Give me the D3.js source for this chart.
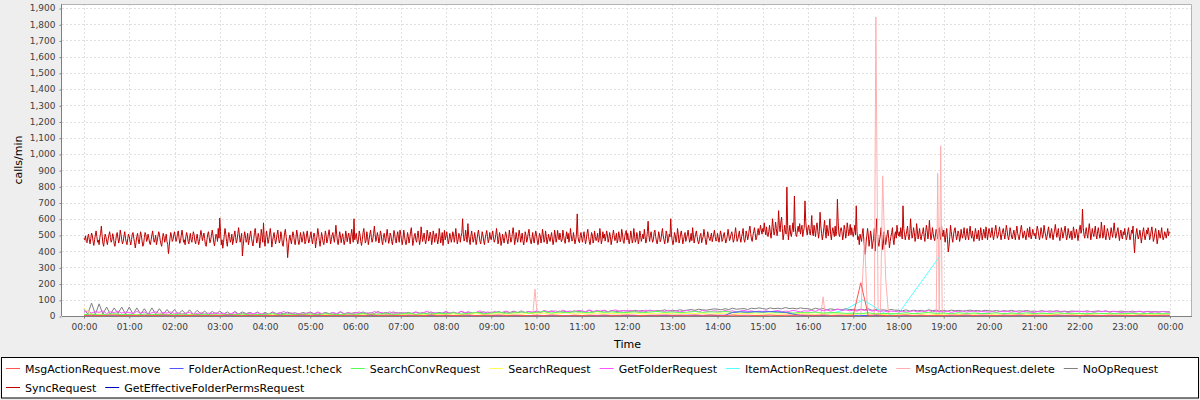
<!DOCTYPE html>
<html>
<head>
<meta charset="utf-8">
<script src="https://cdn.jsdelivr.net/npm/d3@7"></script>
<style>
  body { margin: 0; background: #eeeeee; }
  svg { display: block; font-family: "DejaVu Sans", sans-serif; }
</style>
</head>
<body>
<svg id="chart" width="1200" height="400"></svg>
<script>
const hourLabels = ["00:00","01:00","02:00","03:00","04:00","05:00","06:00","07:00","08:00","09:00","10:00","11:00",
  "12:00","13:00","14:00","15:00","16:00","17:00","18:00","19:00","20:00","21:00","22:00","23:00","00:00"];
const yTicks = [0,100,200,300,400,500,600,700,800,900,1000,1100,1200,1300,1400,1500,1600,1700,1800,1900];

const seriesNames = ["MsgActionRequest.move","FolderActionRequest.!check","SearchConvRequest","SearchRequest",
  "GetFolderRequest","ItemActionRequest.delete","MsgActionRequest.delete","NoOpRequest","SyncRequest",
  "GetEffectiveFolderPermsRequest"];
const seriesColors = ["#ff5555","#5555ff","#55ff55","#ffff55","#ff55ff","#55ffff","#ffafaf","#808080","#c00000","#0000c0"];

// SyncRequest, one value per minute (two rows per hour)
const syncRequest = [
  480,470,495,460,452,488,505,470,445,478,512,498,460,435,470,500,525,490,455,468,440,485,510,555,495,450,430,470,505,488,
  462,440,475,500,520,485,455,470,508,490,445,430,465,498,515,480,450,475,530,505,470,445,460,495,520,480,455,440,478,505,
  490,460,438,472,505,515,480,452,420,455,490,510,470,445,480,520,498,462,430,445,485,515,500,460,475,505,478,450,440,470,
  500,525,485,455,470,498,440,462,492,520,505,468,445,430,475,510,490,455,478,505,460,440,385,430,480,515,495,460,470,500,
  520,490,460,475,510,525,480,448,465,500,530,495,455,470,440,488,515,498,460,445,480,510,470,455,490,520,500,462,445,478,
  505,470,440,460,495,528,500,465,488,512,478,440,430,470,505,520,485,452,470,498,530,500,455,432,470,505,495,460,540,480,
  605,520,440,470,418,455,500,540,505,460,430,478,515,490,455,470,505,440,462,498,525,485,450,470,510,545,500,455,480,510,
  370,430,480,520,495,455,470,510,440,465,500,525,480,455,432,470,515,540,495,450,470,510,485,420,460,535,500,455,575,470,
  430,485,525,490,448,470,505,540,498,425,460,490,515,478,445,470,505,530,480,450,470,520,495,445,430,470,515,535,488,455,
  360,420,475,500,468,445,485,520,498,458,440,480,530,505,462,440,470,515,490,455,475,520,500,445,460,500,525,480,450,470,
  500,520,470,445,485,512,490,420,460,495,540,505,465,430,470,515,488,455,440,478,525,498,450,470,505,532,490,445,472,500,
  515,480,455,500,560,505,462,440,478,520,495,452,485,508,470,440,465,525,498,458,490,512,475,445,500,535,488,455,600,470,
  490,510,470,445,475,525,500,460,435,470,515,540,495,450,465,520,490,440,470,505,530,485,455,475,510,555,505,460,480,515,
  490,450,475,525,505,462,440,485,510,478,455,500,535,490,448,470,512,495,460,440,480,528,505,465,450,495,520,478,455,530,
  505,470,440,475,530,495,460,440,470,515,490,450,480,520,545,490,435,465,500,510,470,455,495,525,480,440,470,550,500,460,
  488,512,470,445,475,530,500,462,480,518,495,440,470,525,500,455,492,510,478,445,470,540,498,450,478,515,435,480,528,470,
  495,520,480,445,470,510,490,455,480,520,500,455,492,540,488,445,470,510,498,455,490,515,600,505,462,478,530,490,455,570,
  500,470,440,495,525,490,455,475,515,480,440,470,505,530,495,460,445,480,520,498,462,440,478,505,528,490,452,470,515,482,
  470,500,525,480,455,470,500,540,495,445,470,515,490,435,465,505,480,450,485,520,500,470,445,478,530,490,455,470,510,545,
  500,440,470,515,482,455,490,530,500,455,480,512,465,438,470,520,498,455,475,510,535,490,462,445,480,515,470,450,492,525,
  500,465,440,475,510,495,450,480,535,500,455,470,525,490,445,470,505,480,460,490,515,475,440,470,530,500,455,480,528,490,
  470,512,485,458,470,530,495,465,448,490,520,475,510,455,480,540,498,462,470,515,480,445,470,505,630,490,460,452,495,515,
  478,455,490,520,480,445,470,510,535,490,460,440,475,515,500,450,470,525,490,465,480,510,455,470,540,495,445,470,520,480,
  505,462,490,525,500,455,478,515,490,440,470,498,530,495,465,485,510,450,470,520,495,458,475,535,505,462,448,490,515,528,
  470,510,465,445,480,525,495,450,470,540,500,455,470,515,490,445,470,525,498,460,480,505,475,535,490,450,470,520,585,500,
  460,498,520,480,455,470,515,530,490,462,445,475,520,498,458,470,510,540,495,470,445,480,525,505,452,470,505,488,600,500,
  465,440,470,515,498,455,480,540,505,450,470,505,525,490,445,470,495,515,460,480,500,530,490,455,470,510,465,545,500,450,
  480,505,525,490,462,445,470,498,510,452,475,488,535,500,470,440,475,520,495,478,465,490,512,458,480,505,530,490,462,470,
  510,480,455,490,525,500,460,470,500,515,480,450,470,495,535,500,465,480,505,520,490,455,470,510,545,500,460,475,500,525,
  480,455,490,510,540,475,455,480,525,505,470,490,530,555,510,475,460,498,520,545,510,470,485,515,540,500,525,560,530,505,
  540,520,575,530,500,550,505,490,520,560,515,480,530,600,545,500,520,580,540,495,530,650,560,520,580,610,540,470,505,560,
  525,505,795,560,470,520,560,505,490,530,575,520,740,550,500,490,530,555,520,570,505,535,560,490,520,545,710,585,530,500,
  545,560,520,500,540,620,510,495,560,530,490,545,575,525,480,520,640,555,510,470,500,545,590,520,480,560,525,495,540,600,
  505,470,520,545,510,490,555,495,520,720,580,505,490,530,545,520,470,500,560,535,480,510,575,540,495,520,565,500,545,510,
  490,520,560,500,680,520,470,490,440,505,480,460,510,540,470,420,380,455,495,540,500,430,470,525,495,415,450,480,540,400,
  490,600,520,455,430,470,500,545,480,410,450,520,490,440,470,505,530,480,420,460,490,515,545,470,440,500,520,480,560,510,
  495,520,490,545,510,475,680,540,505,470,500,525,555,490,470,510,600,530,480,500,545,515,460,490,570,530,475,505,540,490,
  470,500,520,545,490,460,515,560,530,475,505,590,520,470,495,545,510,480,465,500,535,510,475,520,545,495,470,560,515,490,
  530,485,455,510,540,470,395,430,490,560,520,480,455,500,530,545,505,470,490,525,510,460,480,535,500,480,510,545,495,470,
  510,540,495,470,520,555,505,480,525,490,460,500,540,510,475,500,530,465,490,545,515,470,500,535,505,480,550,520,470,505,
  540,520,485,510,545,500,470,500,530,560,520,480,495,520,550,505,470,500,525,540,505,475,515,560,530,490,470,500,545,520,
  485,475,505,530,495,470,520,555,510,490,470,500,535,560,520,480,500,525,495,470,505,540,515,485,550,505,475,500,535,515,
  495,510,475,520,555,530,495,470,500,545,520,480,505,560,525,500,470,490,525,550,505,480,515,540,500,470,505,530,565,520,
  485,515,540,490,465,500,545,520,480,505,530,555,500,470,495,540,510,480,505,525,470,495,550,520,480,500,535,505,465,500,
  545,560,510,530,660,545,500,480,520,545,505,480,530,570,525,470,500,540,510,490,525,555,500,475,520,545,510,480,500,580,
  530,480,505,560,495,470,510,540,520,490,470,505,545,510,485,530,575,520,480,500,525,545,500,465,510,530,490,475,520,500,
  540,505,470,485,520,545,500,470,490,530,510,555,460,390,470,510,540,500,475,495,530,500,450,485,520,545,500,470,495,530,
  505,545,520,470,490,525,550,505,460,480,515,540,500,445,475,530,505,480,510,545,495,470,490,520,505,480,510,540,495,520,
  515
];

// NoOpRequest, every 5 minutes
const noOpRequest = [
  40,12,80,10,75,12,55,10,50,15,55,12,
  55,10,50,12,45,10,50,12,45,10,40,12,
  40,10,35,12,38,10,35,12,30,10,28,12,
  30,12,25,10,28,12,25,15,22,12,25,10,
  22,12,25,15,20,12,24,14,20,12,22,15,
  25,14,20,12,22,15,20,12,24,14,20,16,
  22,15,25,14,20,16,28,14,22,15,25,18,
  20,16,22,15,24,18,20,16,25,15,22,18,
  25,18,22,16,28,20,24,18,22,20,26,18,
  24,20,28,18,25,22,30,20,26,22,28,20,
  30,22,28,24,32,22,30,25,28,24,32,26,
  30,26,34,25,30,28,32,26,35,28,30,32,
  32,28,35,30,34,28,36,30,33,32,38,30,
  35,32,38,34,36,40,35,42,38,36,40,44,
  42,38,45,40,48,42,44,46,40,48,45,50,
  46,42,50,45,48,44,52,46,48,44,50,46,
  45,40,48,42,46,38,44,40,42,38,45,40,
  40,36,42,38,45,35,40,36,38,34,40,36,
  35,32,38,30,36,32,35,30,38,33,36,32,
  34,30,36,32,35,30,33,36,32,34,30,35,
  32,30,34,28,33,30,35,28,32,30,34,29,
  30,28,33,27,31,29,32,28,30,27,31,28,
  30,26,32,27,29,31,28,30,26,29,27,30,
  28,25,30,26,28,24,29,26,27,25,28,26,
  25
];

// GetFolderRequest, every 5 minutes
const getFolderRequest = [
  25,30,18,28,22,32,15,26,20,30,18,24,
  22,15,28,18,25,12,20,26,15,22,18,25,
  15,20,12,18,22,10,16,20,12,18,14,20,
  12,18,10,15,20,12,16,10,18,14,20,12,
  15,10,22,12,18,28,14,20,10,16,12,18,
  20,12,25,15,18,10,22,14,28,12,20,16,
  18,25,12,20,15,28,18,22,12,26,16,20,
  15,22,12,18,25,14,20,30,16,22,12,18,
  28,18,24,15,30,20,26,16,22,32,18,25,
  20,28,16,24,30,18,26,22,32,20,28,24,
  30,22,35,26,28,32,24,36,28,30,25,34,
  32,26,38,28,34,30,36,26,32,38,28,34,
  30,35,26,32,28,36,30,34,26,32,28,35,
  28,32,25,30,35,28,32,26,34,30,28,32,
  30,26,34,28,32,25,30,35,28,32,26,30,
  28,32,25,30,34,26,30,28,35,30,26,32,
  30,35,28,40,32,38,30,36,42,34,38,32,
  36,30,40,34,38,30,35,28,32,26,30,28,
  26,30,24,28,32,25,30,28,34,26,30,28,
  25,30,22,28,26,32,24,28,30,25,28,26,
  24,28,22,30,26,28,24,30,22,28,26,24,
  22,28,25,30,24,26,32,24,28,22,26,30,
  26,30,24,28,22,30,26,32,24,28,26,22,
  24,28,22,26,30,24,28,22,26,24,28,25,
  24
];

// every 10 minutes
const searchConvRequest = [
  8,12,6,10,14,8, 10,6,12,8,10,7, 8,12,6,9,11,7, 6,10,8,12,7,9,
  10,14,8,12,9,11, 12,8,14,10,9,13, 10,15,9,12,14,10, 12,18,10,15,12,16,
  14,20,12,16,22,14, 18,24,16,20,26,18, 22,28,18,25,20,26, 24,20,28,22,26,20,
  22,26,20,24,28,22, 25,20,24,28,22,26, 24,28,22,26,20,25, 22,26,20,24,18,22,
  20,24,18,22,20,16, 18,14,20,12,16,14, 15,20,14,18,22,16, 18,14,20,16,18,15,
  16,20,14,18,16,19, 15,18,14,20,16,17, 16,14,18,15,17,14, 15,17,13,16,14,15,
  14
];
const searchRequest = [
  50,8,12,6,10,8, 6,10,5,8,12,6, 8,5,10,6,9,7, 5,8,6,10,7,5,
  7,10,6,8,5,9, 8,6,10,7,9,6, 9,7,11,8,6,10, 8,12,9,10,7,11,
  10,13,9,12,15,10, 12,15,10,14,12,16, 14,18,12,15,20,13, 15,12,18,14,16,13,
  14,18,12,16,13,17, 15,12,17,14,16,12, 14,18,12,15,17,13, 12,15,11,14,12,16,
  13,10,15,12,14,11, 10,14,12,16,9,13, 12,10,14,11,13,9, 11,14,10,13,12,15,
  12,10,14,11,13,10, 11,14,10,12,15,11, 13,10,12,15,11,13, 10,13,11,12,10,12,
  11
];
const msgActionMove = [
  3,5,2,4,6,3, 4,2,5,3,4,6, 2,4,3,5,2,4, 3,6,4,2,5,3, 4,3,5,2,4,6, 3,5,2,4,3,5,
  4,2,6,3,5,4, 3,5,4,2,6,3, 5,3,4,6,2,5, 4,6,3,5,4,2, 5,3,6,4,2,5, 3,5,4,6,3,4,
  6,4,3,5,4,6, 4,5,3,6,4,5, 5,3,6,4,5,3, 4,6,3,5,4,6, 5,4,6,3,5,4, 5,205,3,6,4,2,
  4,6,3,5,2,4, 3,5,4,6,3,5, 4,3,5,4,6,3, 5,4,3,6,4,5, 3,5,4,3,5,4, 4,3,5,4,3,5,
  4
];
const folderActionCheck = [
  2,1,3,2,1,2, 1,2,1,3,2,1, 2,1,2,1,3,2, 1,2,3,1,2,1, 2,1,2,3,1,2, 1,3,2,1,2,1,
  2,1,3,2,1,2, 1,2,1,2,3,1, 2,3,1,2,1,2, 3,2,1,2,3,2, 2,3,2,1,3,2, 3,2,3,2,4,3,
  3,4,2,3,4,3, 4,3,5,4,3,5, 3,5,22,26,24,27, 25,28,26,22,12,4, 2,3,1,2,3,2, 2,1,3,2,1,2,
  1,2,1,2,1,2, 2,1,2,1,2,1, 1,2,1,2,1,2, 2,1,2,1,2,1, 1,2,1,2,1,2, 2,1,2,1,2,1,
  1
];
const getEffectivePerms = [
  1,0,1,2,0,1, 0,1,0,1,2,0, 1,0,1,0,1,1, 0,1,2,0,1,0, 1,0,1,0,2,1, 0,1,0,1,0,1,
  1,0,2,1,0,1, 0,1,1,0,1,2, 1,0,1,2,0,1, 2,1,0,1,2,1, 1,2,1,0,1,2, 2,1,2,1,0,1,
  1,2,1,2,1,0, 2,1,2,1,3,1, 1,2,1,2,1,3, 2,1,3,1,2,1, 1,2,1,2,1,2, 2,1,2,1,3,1,
  1,2,1,2,1,1, 2,1,1,2,1,2, 1,2,4,1,2,1, 2,1,2,1,1,2, 1,2,1,2,1,1, 2,1,2,1,2,1,
  1
];

// sparse series as [time, value]
const itemActionDelete = [["16:25",8],["16:50",40],["17:13",100],["17:42",15],["17:58",2],["18:55",370]];
const msgActionDelete = [["00:00",3],["09:55",3],["09:58",165],["10:01",3],["16:17",3],["16:20",118],["16:23",3],
  ["17:10",4],["17:15",480],["17:19",4],["17:28",4],["17:30",1845],["17:33",4],["17:36",4],["17:39",865],
  ["17:43",230],["17:47",3],["18:50",3],["18:52",880],["18:54",5],["18:56",1050],["18:58",4],["24:00",3]];

function stepPoints(values, stepMin) {
  return values.map((v, i) => [i * stepMin, v]);
}
function pairPoints(pairs) {
  return pairs.map(([t, v]) => {
    const [h, m] = t.split(":").map(Number);
    return [h * 60 + m, v];
  });
}

const seriesPoints = [
  stepPoints(msgActionMove, 10),
  stepPoints(folderActionCheck, 10),
  stepPoints(searchConvRequest, 10),
  stepPoints(searchRequest, 10),
  stepPoints(getFolderRequest, 5),
  pairPoints(itemActionDelete),
  pairPoints(msgActionDelete),
  stepPoints(noOpRequest, 5),
  stepPoints(syncRequest, 1),
  stepPoints(getEffectivePerms, 10)
];

const svg = d3.select("#chart");
const plot = { left: 62, top: 4, right: 1192, bottom: 316 };

const x = d3.scaleLinear().domain([-29.2, 1469.2]).range([plot.left, plot.right]);
const y = d3.scaleLinear().domain([0, 1925]).range([plot.bottom, plot.top]);
const hourMinutes = hourLabels.map((_, i) => i * 60);

svg.append("rect").attr("width", 1200).attr("height", 400).attr("fill", "#eeeeee");
svg.append("rect")
  .attr("x", plot.left).attr("y", plot.top)
  .attr("width", plot.right - plot.left).attr("height", plot.bottom - plot.top)
  .attr("fill", "#ffffff");

svg.append("clipPath").attr("id", "clip")
  .append("rect")
  .attr("x", plot.left).attr("y", plot.top)
  .attr("width", plot.right - plot.left).attr("height", plot.bottom - plot.top);

// grid
const grid = svg.append("g").attr("stroke", "#e0e0e0").attr("stroke-dasharray", "2,2");
grid.selectAll("line.h").data(yTicks.filter(d => d > 0)).join("line")
  .attr("x1", plot.left).attr("x2", plot.right)
  .attr("y1", d => Math.round(y(d)) + 0.5).attr("y2", d => Math.round(y(d)) + 0.5);
grid.selectAll("line.v").data(hourMinutes).join("line")
  .attr("y1", plot.top).attr("y2", plot.bottom)
  .attr("x1", d => Math.round(x(d)) + 0.5).attr("x2", d => Math.round(x(d)) + 0.5);

// border
svg.append("path")
  .attr("d", `M${plot.left},${plot.top + 0.5}H${plot.right - 0.5}V${plot.bottom}`)
  .attr("fill", "none").attr("stroke", "#b4b4b4");

// series, drawn last-to-first so the first series ends on top
const line = d3.line().x(d => x(d[0])).y(d => y(d[1]));
const lines = svg.append("g").attr("clip-path", "url(#clip)");
d3.range(seriesNames.length - 1, -1, -1).forEach(i => {
  lines.append("path")
    .datum(seriesPoints[i])
    .attr("fill", "none")
    .attr("stroke", seriesColors[i])
    .attr("stroke-width", 1)
    .attr("d", line);
});

// axes
const yAxis = svg.append("g")
  .attr("transform", `translate(${plot.left - 0.5},0)`)
  .call(d3.axisLeft(y).tickValues(yTicks).tickSize(2).tickSizeOuter(0).tickPadding(4).tickFormat(d3.format(",")));
const xAxis = svg.append("g")
  .attr("transform", `translate(0,${plot.bottom + 0.5})`)
  .call(d3.axisBottom(x).tickValues(hourMinutes).tickSize(2).tickSizeOuter(0).tickPadding(5.5)
    .tickFormat((d, i) => hourLabels[i]));
[yAxis, xAxis].forEach(a => {
  a.select(".domain").attr("stroke", "#808080");
  a.selectAll(".tick line").attr("stroke", "#808080");
  a.selectAll(".tick text").attr("fill", "#404040").style("font-size", "9px").style("font-family", "'DejaVu Sans', sans-serif");
});
yAxis.selectAll(".tick line").attr("transform", "translate(0,0.5)");
yAxis.select(".domain").attr("d", `M0,${plot.top}V${plot.bottom}`);
xAxis.select(".domain").attr("d", `M${plot.left},0H${plot.right}`);

svg.append("text")
  .attr("x", (plot.left + plot.right) / 2 + 0.5).attr("y", 348)
  .attr("text-anchor", "middle").attr("font-size", 11).attr("fill", "#000")
  .text("Time");
svg.append("text")
  .attr("transform", `translate(22,${(plot.top + plot.bottom) / 2}) rotate(-90)`)
  .attr("text-anchor", "middle").attr("font-size", 11).attr("fill", "#000")
  .text("calls/min");

// legend
const legend = svg.append("g");
legend.append("rect")
  .attr("x", 1.5).attr("y", 357.5).attr("width", 1197).attr("height", 40.5)
  .attr("fill", "#ffffff").attr("stroke", "#000000");
let lx = 5, row = 0;
seriesNames.forEach((name, i) => {
  const item = legend.append("g");
  const label = item.append("text")
    .attr("x", 20).attr("y", 4).attr("font-size", 11).attr("fill", "#000")
    .text(name);
  const w = label.node().getComputedTextLength();
  if (lx + 20 + w > 1194) { row += 1; lx = 5; }
  item.attr("transform", `translate(${lx},${row === 0 ? 368.5 : 387.5})`);
  item.append("line")
    .attr("x1", 1).attr("x2", 15).attr("y1", 0).attr("y2", 0)
    .attr("stroke", seriesColors[i]).attr("stroke-width", 1);
  lx += 20 + w + 8;
});
</script>
</body>
</html>
